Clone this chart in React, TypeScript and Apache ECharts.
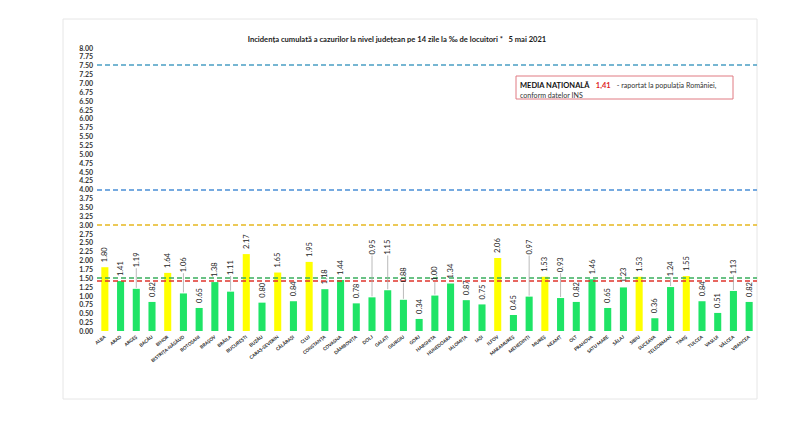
import React, { useEffect, useRef } from "react";
import * as echarts from "echarts";

const counties = [
  "ALBA", "ARAD", "ARGEȘ", "BACĂU", "BIHOR", "BISTRIȚA-NĂSĂUD", "BOTOȘANI", "BRAȘOV",
  "BRĂILA", "BUCUREȘTI", "BUZĂU", "CARAȘ-SEVERIN", "CĂLĂRAȘI", "CLUJ", "CONSTANȚA",
  "COVASNA", "DÂMBOVIȚA", "DOLJ", "GALAȚI", "GIURGIU", "GORJ", "HARGHITA", "HUNEDOARA",
  "IALOMIȚA", "IAȘI", "ILFOV", "MARAMUREȘ", "MEHEDINȚI", "MUREȘ", "NEAMȚ", "OLT",
  "PRAHOVA", "SATU MARE", "SĂLAJ", "SIBIU", "SUCEAVA", "TELEORMAN", "TIMIȘ", "TULCEA",
  "VASLUI", "VÂLCEA", "VRANCEA",
];

const incidence = [
  1.80, 1.41, 1.19, 0.82, 1.64, 1.06, 0.65, 1.38,
  1.11, 2.17, 0.80, 1.65, 0.84, 1.95, 1.18,
  1.44, 0.78, 0.95, 1.15, 0.88, 0.34, 1.00, 1.34,
  0.87, 0.75, 2.06, 0.45, 0.97, 1.53, 0.93, 0.82,
  1.46, 0.65, 1.23, 1.53, 0.36, 1.24, 1.55, 0.84,
  0.51, 1.13, 0.82,
];

const nationalAverage = 1.41;
const thresholdLines = [7.5, 4.0, 3.0, 1.5];
const yMin = 0;
const yMax = 8;
const yInterval = 0.25;

// Label placement (axis units of the label's base) for manually lifted data labels
const liftedLabelBase: Record<string, number> = {
  "ARGEȘ": 1.77,
  "BISTRIȚA-NĂSĂUD": 1.63,
  "BRĂILA": 1.55,
  "DOLJ": 2.13,
  "GALAȚI": 2.13,
  "GIURGIU": 1.35,
  "HARGHITA": 1.38,
  "MEHEDINȚI": 2.13,
  "NEAMȚ": 1.63,
  "VÂLCEA": 1.57,
  "TELEORMAN": 1.52,
};

const lineColors: Record<number, string> = {
  7.5: "#4a9fc4",
  4.0: "#4a8fd6",
  3.0: "#e6b820",
  1.5: "#3aae5e",
};

const FONT = "Lato, 'Open Sans', sans-serif";
const LABEL_DISTANCE = 5;
const LABEL_SIZE = 7.5;

export default function App() {
  const ref = useRef<HTMLDivElement>(null);

  useEffect(() => {
    document.body.style.margin = "0";
    if (!ref.current) return;
    const chart = echarts.init(ref.current, undefined, { renderer: "svg" });

    const markData: any[] = thresholdLines.map((v) => ({
      yAxis: v,
      lineStyle: { color: lineColors[v], type: [5, 3], width: 1.5 },
    }));
    markData.push({
      yAxis: nationalAverage,
      lineStyle: { color: "#e0342c", type: [5, 3], width: 1.5 },
    });

    const liftedData = counties
      .map((c, i) => (liftedLabelBase[c] !== undefined ? [i, incidence[i], liftedLabelBase[c]] : null))
      .filter((d) => d !== null);

    chart.setOption({
      animation: false,
      backgroundColor: "#ffffff",
      title: {
        text: "Incidența cumulată a cazurilor la nivel județean pe 14 zile la ‰ de locuitori *   5 mai 2021",
        left: 392,
        top: 30,
        textAlign: "center",
        textStyle: { fontFamily: FONT, fontSize: 7.6, fontWeight: "bold", color: "#1a1a1a" },
      },
      grid: { left: 97, right: 43, top: 47.5, bottom: 91, containLabel: false },
      xAxis: {
        type: "category",
        data: counties,
        axisLine: { show: false },
        axisTick: { show: false },
        axisLabel: {
          interval: 0,
          rotate: 38,
          margin: 5,
          fontSize: 4.6,
          fontWeight: "bold",
          fontFamily: FONT,
          color: "#222",
        },
      },
      yAxis: {
        type: "value",
        min: yMin,
        max: yMax,
        interval: yInterval,
        splitLine: { show: false },
        axisLine: { show: false },
        axisTick: { show: false },
        axisLabel: {
          formatter: (v: number) => v.toFixed(2),
          fontSize: 7,
          fontWeight: "bold",
          fontFamily: FONT,
          color: "#333",
          margin: 4,
        },
      },
      series: [
        {
          type: "bar",
          data: incidence,
          barWidth: "45%",
          itemStyle: {
            color: (p: any) => (p.value > 1.5 ? "#ffff00" : "#1fe466"),
          },
          label: {
            show: true,
            position: "top",
            distance: LABEL_DISTANCE,
            rotate: 90,
            align: "left",
            verticalAlign: "middle",
            formatter: (p: any) =>
              liftedLabelBase[counties[p.dataIndex]] !== undefined ? "" : Number(p.value).toFixed(2),
            fontSize: LABEL_SIZE,
            fontFamily: FONT,
            color: "#222",
          },
          markLine: {
            silent: true,
            symbol: "none",
            label: { show: false },
            data: markData,
          },
        },
        {
          type: "custom",
          data: liftedData,
          silent: true,
          z: 5,
          renderItem: (params: any, api: any) => {
            const idx = api.value(0);
            const val = api.value(1);
            const base = api.value(2);
            const top = api.coord([idx, val]);
            const lab = api.coord([idx, base]);
            return {
              type: "group",
              children: [
                {
                  type: "line",
                  shape: { x1: top[0], y1: top[1] - 1, x2: lab[0], y2: lab[1] },
                  style: { stroke: "#a8a8a8", lineWidth: 0.8 },
                },
                {
                  type: "text",
                  x: lab[0],
                  y: lab[1] - 1,
                  rotation: Math.PI / 2,
                  style: {
                    text: Number(val).toFixed(2),
                    align: "left",
                    verticalAlign: "middle",
                    fontSize: LABEL_SIZE,
                    fontFamily: FONT,
                    fill: "#222",
                  },
                },
              ],
            };
          },
        },
      ],
      graphic: [
        {
          type: "rect",
          shape: { x: 63, y: 19, width: 694, height: 380 },
          style: { fill: "none", stroke: "#e6e6e6", lineWidth: 1 },
          silent: true,
        },
        {
          type: "rect",
          shape: { x: 516, y: 76, width: 217, height: 23 },
          style: { fill: "#ffffff", stroke: "#e07a82", lineWidth: 1 },
          z: 10,
        },
        {
          type: "text",
          x: 520,
          y: 79,
          z: 11,
          style: {
            text: "{b|MEDIA NAȚIONALĂ}  {r|1,41}  {n|- raportat la populația României,}\n{n|conform datelor INS}",
            fontFamily: FONT,
            rich: {
              b: { fontSize: 7.5, fontWeight: "bold", fill: "#111", fontFamily: FONT, lineHeight: 8.5 },
              r: { fontSize: 7.5, fontWeight: "bold", fill: "#e02424", fontFamily: FONT, lineHeight: 8.5 },
              n: { fontSize: 7.1, fill: "#333", fontFamily: FONT, lineHeight: 8.5 },
            },
          },
        },
      ],
    });

    return () => chart.dispose();
  }, []);

  return <div ref={ref} style={{ width: 800, height: 422 }} />;
}
